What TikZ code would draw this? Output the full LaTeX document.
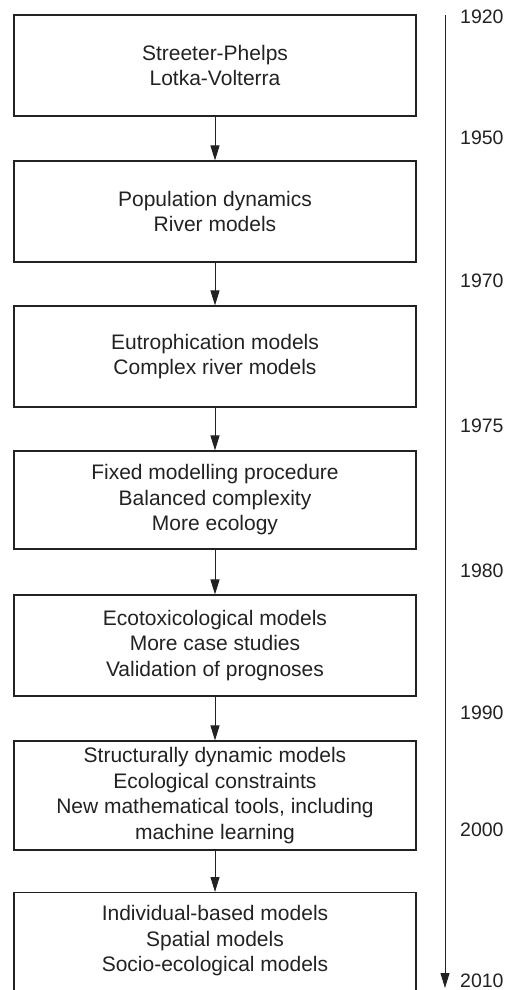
\documentclass[tikz,border=0pt]{standalone}
\usepackage{fontspec}
\setmainfont{Liberation Sans}
\usetikzlibrary{arrows.meta}
\definecolor{ink}{HTML}{222222}
\begin{document}
\begin{tikzpicture}[x=1pt,y=1pt,
  box/.style={draw=ink,line width=1.1pt,minimum width=402pt,inner sep=0pt,align=center,
    font=\fontsize{21}{25.5}\selectfont,text=ink},
  txt/.style={inner sep=0pt,align=center,font=\fontsize{21}{25.5}\selectfont,text=ink},
  year/.style={inner sep=0pt,anchor=base west,font=\fontsize{19.5}{24}\selectfont,text=ink},
  arr/.style={draw=ink,line width=1pt,-{Triangle[length=15pt,width=9pt]}}]
\path[use as bounding box,clip] (0,0) rectangle (507,-990);
\node[box,minimum height=101pt] (b1) at (215,-65.5) {Streeter-Phelps\\Lotka-Volterra};
\node[box,minimum height=101pt] (b2) at (215,-211.5) {Population dynamics\\River models};
\node[box,minimum height=101pt] (b3) at (215,-356.5) {Eutrophication models\\Complex river models};
\node[box,minimum height=98pt] (b4) at (215,-500) {Fixed modelling procedure\\Balanced complexity\\More ecology};
\node[box,minimum height=101pt] (b5) at (215,-645.5) {Ecotoxicological models\\More case studies\\Validation of prognoses};
\node[box,minimum height=109pt] (b6) at (215,-795.5) {Structurally dynamic models\\Ecological constraints\\New mathematical tools, including\\machine learning};
\node[box,minimum height=120pt,anchor=north] (b7) at (215,-892) {};
\node[txt] (t7) at (215,-941) {Individual-based models\\Spatial models\\Socio-ecological models};
\draw[arr] (b1.south) -- (b2.north);
\draw[arr] (b2.south) -- (b3.north);
\draw[arr] (b3.south) -- (b4.north);
\draw[arr] (b4.south) -- (b5.north);
\draw[arr] (b5.south) -- (b6.north);
\draw[arr] (b6.south) -- (b7.north);
\coordinate (tl0) at (445,-15);
\coordinate (tl1) at (445,-988);
\draw[arr] (tl0) -- (tl1);
\node[year] (y1920) at (460,-24) {1920};
\node[year] (y1950) at (460,-144) {1950};
\node[year] (y1970) at (460,-287) {1970};
\node[year] (y1975) at (460,-432) {1975};
\node[year] (y1980) at (460,-577) {1980};
\node[year] (y1990) at (460,-719) {1990};
\node[year] (y2000) at (460,-836) {2000};
\node[year] (y2010) at (460,-987) {2010};
\end{tikzpicture}
\end{document}
